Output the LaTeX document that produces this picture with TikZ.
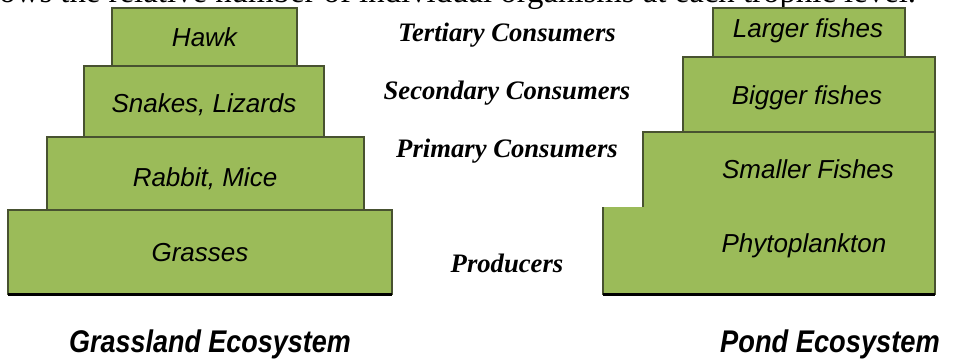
\documentclass[tikz,border=0pt]{standalone}
\usepackage{fontspec}
\setmainfont{Liberation Serif}
\setsansfont{Liberation Sans}

\definecolor{pyrgreen}{RGB}{155,187,89}
\definecolor{pyredge}{RGB}{72,82,48}

\tikzset{
  tier/.style={fill=pyrgreen, draw=pyredge, line width=0.8},
  groundline/.style={line width=2.4, draw=black},
  boxlabel/.style={anchor=base, inner sep=0.75pt, font=\fontsize{19.5}{23}\selectfont\sffamily\itshape},
  levellabel/.style={anchor=base, inner sep=0.75pt, font=\fontsize{20}{24}\selectfont\bfseries\itshape},
  ecolabel/.style={anchor=base, inner sep=0.75pt, font=\fontsize{23.5}{28}\selectfont\sffamily\bfseries\itshape},
}

\begin{document}
\begin{tikzpicture}[x=0.75pt,y=0.75pt,yscale=-1,xscale=1]
\path[use as bounding box] (0,0) rectangle (969,360);
\clip (0,0) rectangle (969,360);

% Text Node (cut-off line above the figure)
\draw (-30,3) node [anchor=base west][inner sep=0pt][font=\fontsize{24.6}{28}\selectfont] (caption) {shows the relative number of individual organisms at each trophic level.};

%Shape: Rectangle -- grassland pyramid
\draw [tier] (8,210) rectangle (392,294) ;
\draw [tier] (47,137) rectangle (364,210) ;
\draw [tier] (84,66) rectangle (324,137) ;
\draw [tier] (112,8) rectangle (297,66) ;
%Straight Lines
\draw [groundline] (8,294.5) -- (392,294.5) ;

%Shape: Polygon -- pond pyramid, lower two levels in one piece
\fill [pyrgreen] (643,132) -- (935,132) -- (935,294) -- (603,294) -- (603,207) -- (643,207) -- cycle ;
\draw [pyredge, line width=0.8] (643,207) -- (643,132) -- (935,132) -- (935,294) -- (603,294) -- (603,207) ;
%Shape: Rectangle
\draw [tier] (683,57) rectangle (935,132) ;
\draw [tier] (713,8) rectangle (905,57) ;
%Straight Lines
\draw [groundline] (603,294.5) -- (935,294.5) ;

% Text Node
\draw (204.5,47) node [boxlabel] (hawk) {Hawk};
% Text Node
\draw (204,112) node [boxlabel] (snakes) {Snakes, Lizards};
% Text Node
\draw (205,186) node [boxlabel] (rabbit) {Rabbit, Mice};
% Text Node
\draw (200,261) node [boxlabel] (grasses) {Grasses};

% Text Node
\draw (808,38) node [boxlabel] (larger) {Larger fishes};
% Text Node
\draw (807,104) node [boxlabel] (bigger) {Bigger fishes};
% Text Node
\draw (808,178) node [boxlabel] (smaller) {Smaller Fishes};
% Text Node
\draw (804,252) node [boxlabel] (phyto) {Phytoplankton};

% Text Node
\draw (507,42) node [levellabel] (tertiary) {Tertiary Consumers};
% Text Node
\draw (507,99) node [levellabel] (secondary) {Secondary Consumers};
% Text Node
\draw (507,157) node [levellabel] (primary) {Primary Consumers};
% Text Node
\draw (507,272) node [levellabel] (producers) {Producers};

% Text Node
\draw (210,352) node [ecolabel] (grassland) {\scalebox{0.86}[1]{Grassland Ecosystem}};
% Text Node
\draw (830,352) node [ecolabel] (pond) {\scalebox{0.87}[1]{Pond Ecosystem}};

\end{tikzpicture}
\end{document}
